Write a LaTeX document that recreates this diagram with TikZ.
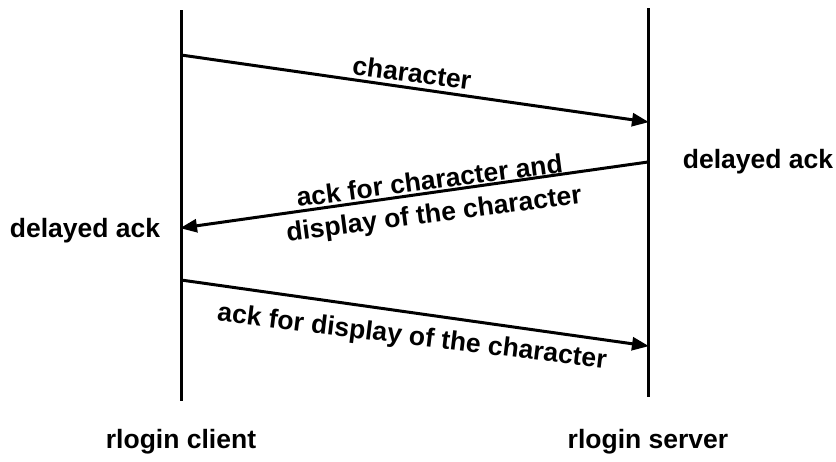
\documentclass[tikz,border=0pt]{standalone}
\usepackage{fontspec}
\setmainfont{Liberation Sans}
\usetikzlibrary{arrows.meta}
\begin{document}
\begin{tikzpicture}[x=1pt,y=-1pt,
  lifeline/.style={line width=3pt},
  msg/.style={line width=3pt,-{Triangle[length=17pt,width=13pt]}, shorten >=-1pt},
  lbl/.style={font=\fontsize{26.5}{33}\selectfont\bfseries, inner sep=0pt, align=center},
]
\useasboundingbox (0,0) rectangle (836,461);
% lifelines
\coordinate (ctop) at (181,10);
\coordinate (cbot) at (181,401);
\coordinate (stop) at (648,8);
\coordinate (sbot) at (648,397);
\draw[lifeline] (ctop) -- (cbot);
\draw[lifeline] (stop) -- (sbot);
% message end points
\coordinate (m1a) at (181,55);
\coordinate (m1b) at (648,122);
\coordinate (m2a) at (648,162);
\coordinate (m2b) at (181,228);
\coordinate (m3a) at (181,280);
\coordinate (m3b) at (648,346);
\draw[msg] (m1a) -- (m1b);
\draw[msg] (m2a) -- (m2b);
\draw[msg] (m3a) -- (m3b);
% labels
\node[lbl, rotate=-7.5] (l1) at (412,73) {character};
\node[lbl, rotate=7.5] (l2) at (432,199) {ack for character and\\display of the character};
\node[lbl, rotate=-7] (l3) at (412,338) {ack for display of the character};
\node[lbl] (dr) at (758,162) {delayed ack};
\node[lbl] (dl) at (85,231) {delayed ack};
\node[lbl] (cl) at (181,442) {rlogin client};
\node[lbl] (sv) at (648,442) {rlogin server};
\end{tikzpicture}
\end{document}
